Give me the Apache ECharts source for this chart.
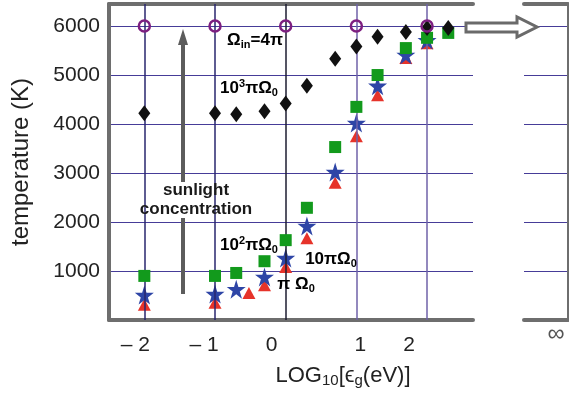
<!DOCTYPE html>
<html>
<head>
<meta charset="utf-8">
<script src="https://cdn.jsdelivr.net/npm/echarts@6/dist/echarts.min.js"></script>
<style>
  html, body { margin: 0; padding: 0; background: #fff; }
  #chart { width: 569px; height: 401px; }
</style>
</head>
<body>
<div id="chart"></div>
<script>
// x tick values and their printed labels
const xTicks = [-2, -1, 0, 1, 2];
const xTickLabels = ['\u2013 2', '\u2013 1', '0', '1', '2'];

// Omega_in = 4pi (open circles)
const circleX = [-2, -1, 0, 1, 2];
const circleY = [6000, 6000, 6000, 6000, 6000];

// 10^3 pi Omega_0 (diamonds)
const diamondX = [-2, -1, -0.7, -0.3, 0, 0.3, 0.7, 1, 1.3, 1.7, 2, 2.3];
const diamondY = [4220, 4220, 4200, 4260, 4420, 4780, 5330, 5580, 5780, 5880, 5960, 5960];

// 10^2 pi Omega_0 (squares)
const squareX = [-2, -1, -0.7, -0.3, 0, 0.3, 0.7, 1, 1.3, 1.7, 2, 2.3];
const squareY = [900, 900, 960, 1200, 1630, 2290, 3530, 4350, 5000, 5550, 5760, 5860];

// 10 pi Omega_0 (stars)
const starX = [-2, -1, -0.7, -0.3, 0, 0.3, 0.7, 1, 1.3, 1.7, 2];
const starY = [510, 530, 630, 880, 1265, 1920, 3020, 4020, 4780, 5410, 5710];

// pi Omega_0 (triangles)
const triX = [-2, -1, -0.52, -0.3, 0, 0.3, 0.7, 1, 1.3, 1.7, 2];
const triY = [310, 350, 550, 710, 1080, 1670, 2800, 3750, 4590, 5350, 5650];

const pairs = (xs, ys) => xs.map((x, i) => [x, ys[i]]);

const FONT = 'Liberation Sans, Arial, Helvetica, sans-serif';
const BORDER = '#6e6e6e';
const GRIDLINE = '#463c98';
const STAR = 'path://M50,0 L61,35 L98,35 L68,57 L79,91 L50,70 L21,91 L32,57 L2,35 L39,35 Z';

// small horizontal nudges for the x tick labels (they sit a bit off the ticks)
const labelPad = {'-2': [0, 18, 0, 0], '-1': [0, 22, 0, 0], '0': [0, 28, 0, 0], '1': [0, 0, 0, 8], '2': [0, 36, 0, 0]};
const xRich = {};
xTicks.forEach((v, i) => {
  xRich['t' + i] = { fontSize: 21, color: '#222', fontFamily: FONT, padding: labelPad[String(v)] };
});

const chart = echarts.init(document.getElementById('chart'));

const annText = { fontSize: 17, fontWeight: 'bold', fontFamily: FONT, color: '#1a1a1a', lineHeight: 20 };
const annRich = {
  a: annText,
  sub: { fontSize: 11, fontWeight: 'bold', fontFamily: FONT, color: '#1a1a1a', lineHeight: 10, verticalAlign: 'bottom' },
  sup: { fontSize: 11, fontWeight: 'bold', fontFamily: FONT, color: '#1a1a1a', lineHeight: 12, verticalAlign: 'top' }
};
function ann(text, x, y) {
  return {
    type: 'text', x: x, y: y, z: 20,
    style: { text: text, rich: annRich, align: 'center', verticalAlign: 'middle' }
  };
}

const option = {
  animation: false,
  backgroundColor: '#fff',
  grid: [
    { left: 109, right: 96, top: 4, bottom: 81, outerBoundsMode: 'none', containLabel: false },
    { left: 524, right: 1, top: 4, bottom: 81, outerBoundsMode: 'none', containLabel: false }
  ],
  xAxis: [
    {
      gridIndex: 0, type: 'value', min: -2.5, max: 2.65, position: 'bottom',
      axisLine: { show: true, onZero: false, lineStyle: { color: BORDER, width: 4 } },
      axisTick: { show: false },
      splitLine: { show: false },
      axisLabel: {
        customValues: xTicks, margin: 15,
        formatter: function (v) {
          const i = xTicks.indexOf(Math.round(v));
          return '{t' + i + '|' + xTickLabels[i] + '}';
        },
        rich: xRich
      },
      name: '{n|LOG}{s|10}{n|[\u03f5}{s|g}{n|(eV)]}',
      nameLocation: 'middle', nameGap: 44,
      nameTextStyle: {
        padding: [0, 0, 0, 104],
        rich: {
          n: { fontSize: 22, color: '#222', fontFamily: FONT, lineHeight: 24 },
          s: { fontSize: 15, color: '#222', fontFamily: FONT, lineHeight: 14, verticalAlign: 'bottom' }
        }
      }
    },
    {
      gridIndex: 0, type: 'value', min: -2.5, max: 2.65, position: 'top',
      axisLine: { show: true, onZero: false, lineStyle: { color: BORDER, width: 4 } },
      axisTick: { show: false }, axisLabel: { show: false }, splitLine: { show: false }
    },
    {
      gridIndex: 1, type: 'value', min: 0, max: 1, position: 'bottom',
      axisLine: { show: true, onZero: false, lineStyle: { color: BORDER, width: 4 } },
      axisTick: { show: false }, splitLine: { show: false },
      axisLabel: {
        customValues: [0.73], margin: 2,
        formatter: () => '\u221e',
        fontSize: 24, color: '#555', fontFamily: FONT
      }
    },
    {
      gridIndex: 1, type: 'value', min: 0, max: 1, position: 'top',
      axisLine: { show: true, onZero: false, lineStyle: { color: BORDER, width: 4 } },
      axisTick: { show: false }, axisLabel: { show: false }, splitLine: { show: false }
    }
  ],
  yAxis: [
    {
      gridIndex: 0, type: 'value', min: 0, max: 6450, interval: 1000,
      axisLine: { show: true, onZero: false, lineStyle: { color: BORDER, width: 4 } },
      axisTick: { show: false },
      splitLine: { show: true, lineStyle: { color: GRIDLINE, width: 1.2 } },
      axisLabel: {
        margin: 9, fontSize: 21, color: '#222', fontFamily: FONT,
        formatter: v => (v === 0 || v > 6000 ? '' : String(v))
      },
      name: 'temperature (K)', nameLocation: 'middle', nameGap: 76, nameRotate: 90,
      nameTextStyle: { fontSize: 24, color: '#222', fontFamily: FONT }
    },
    {
      gridIndex: 1, type: 'value', min: 0, max: 6450, interval: 1000, position: 'right',
      axisLine: { show: true, onZero: false, lineStyle: { color: BORDER, width: 2 } },
      axisTick: { show: false }, axisLabel: { show: false },
      splitLine: { show: true, lineStyle: { color: GRIDLINE, width: 1.2 } }
    }
  ],
  series: [
    {
      // vertical grid lines at the x ticks
      type: 'scatter', xAxisIndex: 0, yAxisIndex: 0, data: [], z: 1,
      markLine: {
        silent: true, symbol: ['none', 'none'], label: { show: false },
        data: xTicks.map(v => ({
          xAxis: v,
          lineStyle: { type: 'solid', width: 1.5, color: v === 0 ? '#1c1c30' : (v < 0 ? '#28266e' : '#6f62a8') }
        }))
      }
    },
    {
      name: 'pi Omega0', type: 'scatter', z: 3,
      symbol: 'triangle', symbolSize: [13, 12],
      itemStyle: { color: '#e6332a', opacity: 1 },
      data: pairs(triX, triY)
    },
    {
      name: '10 pi Omega0', type: 'scatter', z: 4,
      symbol: STAR, symbolSize: 19,
      itemStyle: { color: '#2e45a6', opacity: 1 },
      data: pairs(starX, starY)
    },
    {
      name: '10^2 pi Omega0', type: 'scatter', z: 5,
      symbol: 'rect', symbolSize: 12,
      itemStyle: { color: '#129a1c', opacity: 1 },
      data: pairs(squareX, squareY)
    },
    {
      name: '10^3 pi Omega0', type: 'scatter', z: 6,
      symbol: 'diamond', symbolSize: [12, 16],
      itemStyle: { color: '#111111', opacity: 1 },
      data: pairs(diamondX, diamondY)
    },
    {
      name: 'Omega_in = 4 pi', type: 'scatter', z: 7,
      symbol: 'circle', symbolSize: 11,
      itemStyle: { color: 'rgba(255,255,255,0)', borderColor: '#7d1f80', borderWidth: 2.5, opacity: 1 },
      data: pairs(circleX, circleY)
    }
  ],
  graphic: [
    // hollow arrow pointing to the infinity panel
    {
      type: 'polygon', z: 15,
      shape: { points: [[466, 23], [517, 23], [517, 17], [537, 27], [517, 37], [517, 32], [466, 32]] },
      style: { fill: '#fff', stroke: '#6a6a6a', lineWidth: 3 }
    },
    // sunlight concentration arrow
    {
      type: 'polygon', z: 15,
      shape: { points: [[178, 45], [183, 29], [188, 45]] },
      style: { fill: '#5c5c5c' }
    },
    { type: 'rect', z: 15, shape: { x: 181, y: 44, width: 4, height: 138 }, style: { fill: '#5c5c5c' } },
    { type: 'rect', z: 15, shape: { x: 181, y: 218, width: 4, height: 76 }, style: { fill: '#5c5c5c' } },
    {
      type: 'text', x: 196, y: 200, z: 20,
      style: {
        text: 'sunlight\nconcentration', align: 'center', verticalAlign: 'middle',
        fontSize: 17, fontWeight: 'bold', fontFamily: FONT, fill: '#1a1a1a', lineHeight: 19
      }
    },
    ann('{a|\u03a9}{sub|in}{a|=4\u03c0}', 255, 40),
    ann('{a|10}{sup|3}{a|\u03c0\u03a9}{sub|0}', 249, 88),
    ann('{a|10}{sup|2}{a|\u03c0\u03a9}{sub|0}', 249, 245),
    ann('{a|10\u03c0\u03a9}{sub|0}', 331, 259),
    ann('{a|\u03c0 \u03a9}{sub|0}', 296, 284)
  ]
};

chart.setOption(option);
</script>
</body>
</html>
